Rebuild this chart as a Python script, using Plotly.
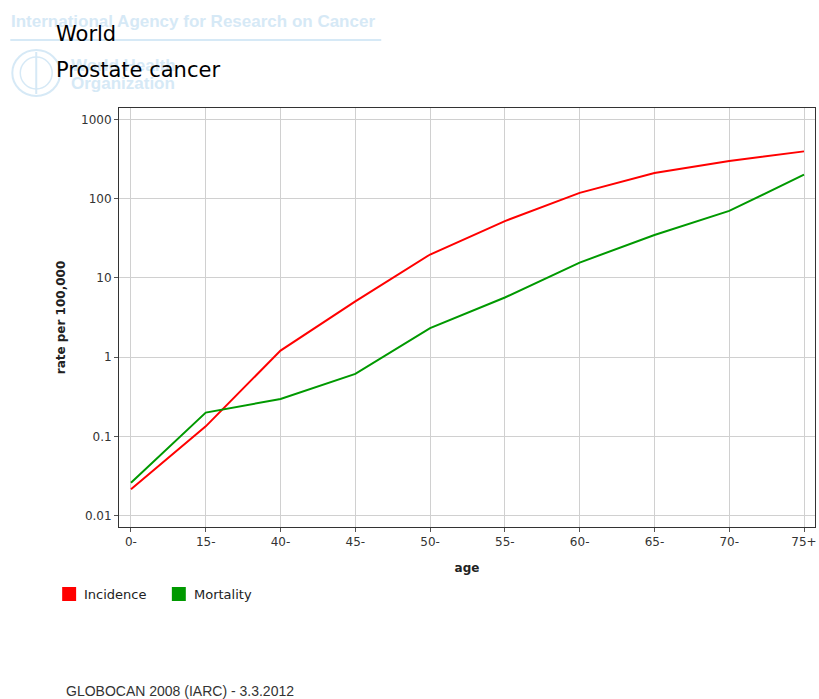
import plotly.graph_objects as go

# Age groups and rates per 100,000 (GLOBOCAN 2008, World, prostate cancer)
age_groups = ["0-", "15-", "40-", "45-", "50-", "55-", "60-", "65-", "70-", "75+"]
incidence = [0.0215, 0.134, 1.21, 5.05, 19.7, 52.0, 118.0, 210.0, 298.0, 394.0]
mortality = [0.026, 0.20, 0.297, 0.615, 2.32, 5.65, 15.6, 34.7, 70.0, 200.0]

y_tickvals = [0.01, 0.1, 1, 10, 100, 1000]
y_ticktext = ["0.01", "0.1", "1", "10", "100", "1000"]

W, H = 819, 699
L, R, T, B = 119, 817, 108, 527  # plot area in pixels


def px(x):
    return (x - L) / (R - L)


def py(y):
    return (B - y) / (B - T)


fig = go.Figure()
fig.add_trace(go.Scatter(x=age_groups, y=incidence, mode="lines", name="Incidence",
                         line=dict(color="#ff0000", width=2), showlegend=False))
fig.add_trace(go.Scatter(x=age_groups, y=mortality, mode="lines", name="Mortality",
                         line=dict(color="#009900", width=2), showlegend=False))

tick_font = dict(family="DejaVu Sans", size=12, color="#333333")
title_font = dict(family="DejaVu Sans", size=12, color="#222222")

fig.update_layout(
    width=W, height=H,
    margin=dict(l=L, r=W - R, t=T, b=H - B, pad=0),
    paper_bgcolor="white", plot_bgcolor="white",
    xaxis=dict(
        type="category", range=[-0.16, 9.147],
        showgrid=True, gridcolor="#d0d0d0", gridwidth=1,
        showline=True, linecolor="#333333", linewidth=1, mirror=True,
        ticks="outside", ticklen=4, tickcolor="#555555",
        tickfont=tick_font,
        title=dict(text="<b>age</b>", font=title_font, standoff=15),
        zeroline=False,
    ),
    yaxis=dict(
        type="log", range=[-2.1425, 3.1425],
        tickvals=y_tickvals, ticktext=y_ticktext,
        showgrid=True, gridcolor="#d0d0d0", gridwidth=1,
        showline=True, linecolor="#333333", linewidth=1, mirror=True,
        ticks="outside", ticklen=4, tickcolor="#555555",
        tickfont=tick_font,
        title=dict(text="<b>rate per 100,000</b>", font=title_font, standoff=12),
        zeroline=False,
    ),
)

wm = "#d6e9f6"
annotations = [
    # faint agency watermark
    dict(text="<b>International Agency for Research on Cancer</b>", x=px(9), y=py(22),
         xanchor="left", yanchor="middle",
         font=dict(family="Liberation Sans", size=17, color=wm)),
    dict(text="<b>World Health</b>", x=px(69), y=py(66), xanchor="left", yanchor="middle",
         font=dict(family="Liberation Sans", size=17, color=wm)),
    dict(text="<b>Organization</b>", x=px(69), y=py(83), xanchor="left", yanchor="middle",
         font=dict(family="Liberation Sans", size=17, color=wm)),
    # chart titles
    dict(text="World", x=px(54), y=py(34), xanchor="left", yanchor="middle",
         font=dict(family="DejaVu Sans", size=21, color="#000000")),
    dict(text="Prostate cancer", x=px(54), y=py(70), xanchor="left", yanchor="middle",
         font=dict(family="DejaVu Sans", size=21, color="#000000")),
    # legend labels
    dict(text="Incidence", x=px(82), y=py(594), xanchor="left", yanchor="middle",
         font=dict(family="DejaVu Sans", size=13, color="#222222")),
    dict(text="Mortality", x=px(192), y=py(594), xanchor="left", yanchor="middle",
         font=dict(family="DejaVu Sans", size=13, color="#222222")),
    # footer
    dict(text="GLOBOCAN 2008 (IARC) - 3.3.2012", x=px(64), y=py(691),
         xanchor="left", yanchor="middle",
         font=dict(family="Liberation Sans", size=14, color="#333333")),
]
for a in annotations:
    a.update(xref="paper", yref="paper", showarrow=False)
fig.update_layout(annotations=annotations)

shapes = [
    # watermark rule and emblem
    dict(type="line", x0=px(10), x1=px(382), y0=py(40), y1=py(40),
         line=dict(color=wm, width=2)),
    dict(type="circle", x0=px(12), x1=px(60), y0=py(50), y1=py(96),
         line=dict(color=wm, width=2)),
    dict(type="circle", x0=px(20), x1=px(52), y0=py(57), y1=py(89),
         line=dict(color=wm, width=1.5)),
    dict(type="line", x0=px(36), x1=px(36), y0=py(52), y1=py(94),
         line=dict(color=wm, width=2)),
    # legend swatches
    dict(type="rect", x0=px(62), x1=px(76), y0=py(601), y1=py(587),
         fillcolor="#ff0000", line=dict(width=0)),
    dict(type="rect", x0=px(172), x1=px(186), y0=py(601), y1=py(587),
         fillcolor="#009900", line=dict(width=0)),
]
for s in shapes:
    s.update(xref="paper", yref="paper", layer="below")
fig.update_layout(shapes=shapes)

fig.write_html("out.html")
